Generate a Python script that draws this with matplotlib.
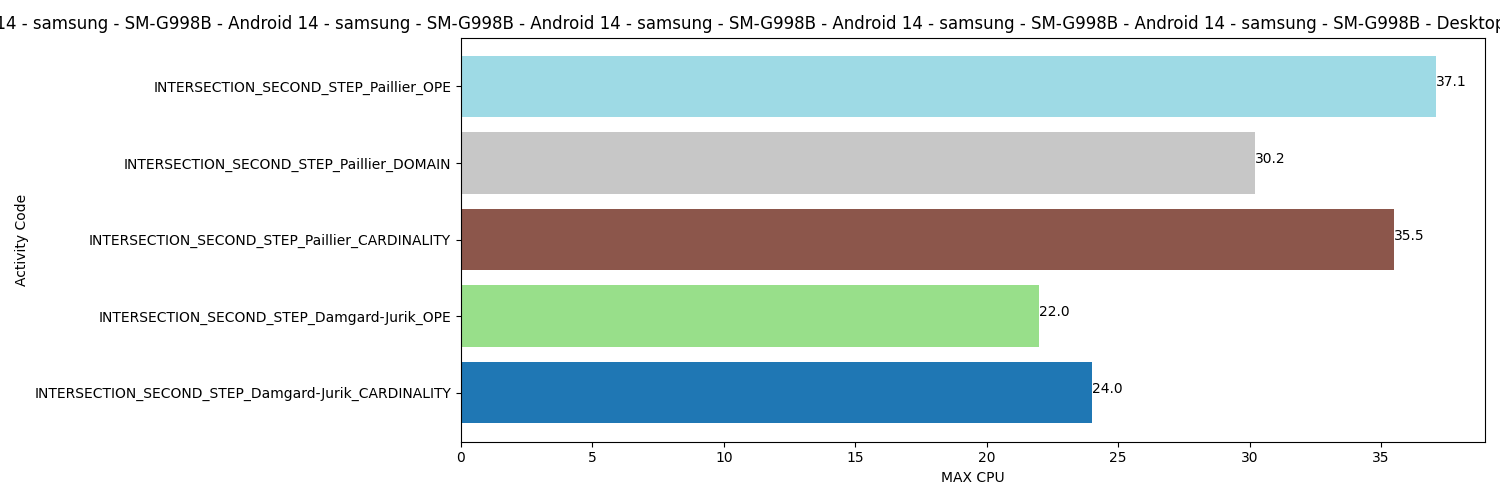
import numpy as np
import matplotlib
matplotlib.use("Agg")
import matplotlib.pyplot as plt

activities = [
    "INTERSECTION_SECOND_STEP_Damgard-Jurik_CARDINALITY",
    "INTERSECTION_SECOND_STEP_Damgard-Jurik_OPE",
    "INTERSECTION_SECOND_STEP_Paillier_CARDINALITY",
    "INTERSECTION_SECOND_STEP_Paillier_DOMAIN",
    "INTERSECTION_SECOND_STEP_Paillier_OPE",
]
max_cpu = [24.0, 22.0, 35.5, 30.2, 37.1]

devices = ["Android 14 - samsung - SM-G998B"] * 5 + ["Desktop - Windows 10 - AMD64 - Desktop - Windows 10 - Intel x86_64"]
title = " - ".join(devices)

colors = plt.cm.tab20(np.linspace(0, 1, len(activities)))

fig, ax = plt.subplots(figsize=(15, 5), dpi=100)
bars = ax.barh(activities, max_cpu, color=colors)

# valeur au bout de chaque barre
for bar in bars:
    w = bar.get_width()
    ax.text(w, bar.get_y() + bar.get_height() / 2, f"{w:.1f}")

ax.set_title(title)
ax.set_xlabel("MAX CPU")
ax.set_ylabel("Activity Code")

plt.subplots_adjust(left=0.3073, right=0.99, top=0.925, bottom=0.117)
plt.savefig("out.png")
